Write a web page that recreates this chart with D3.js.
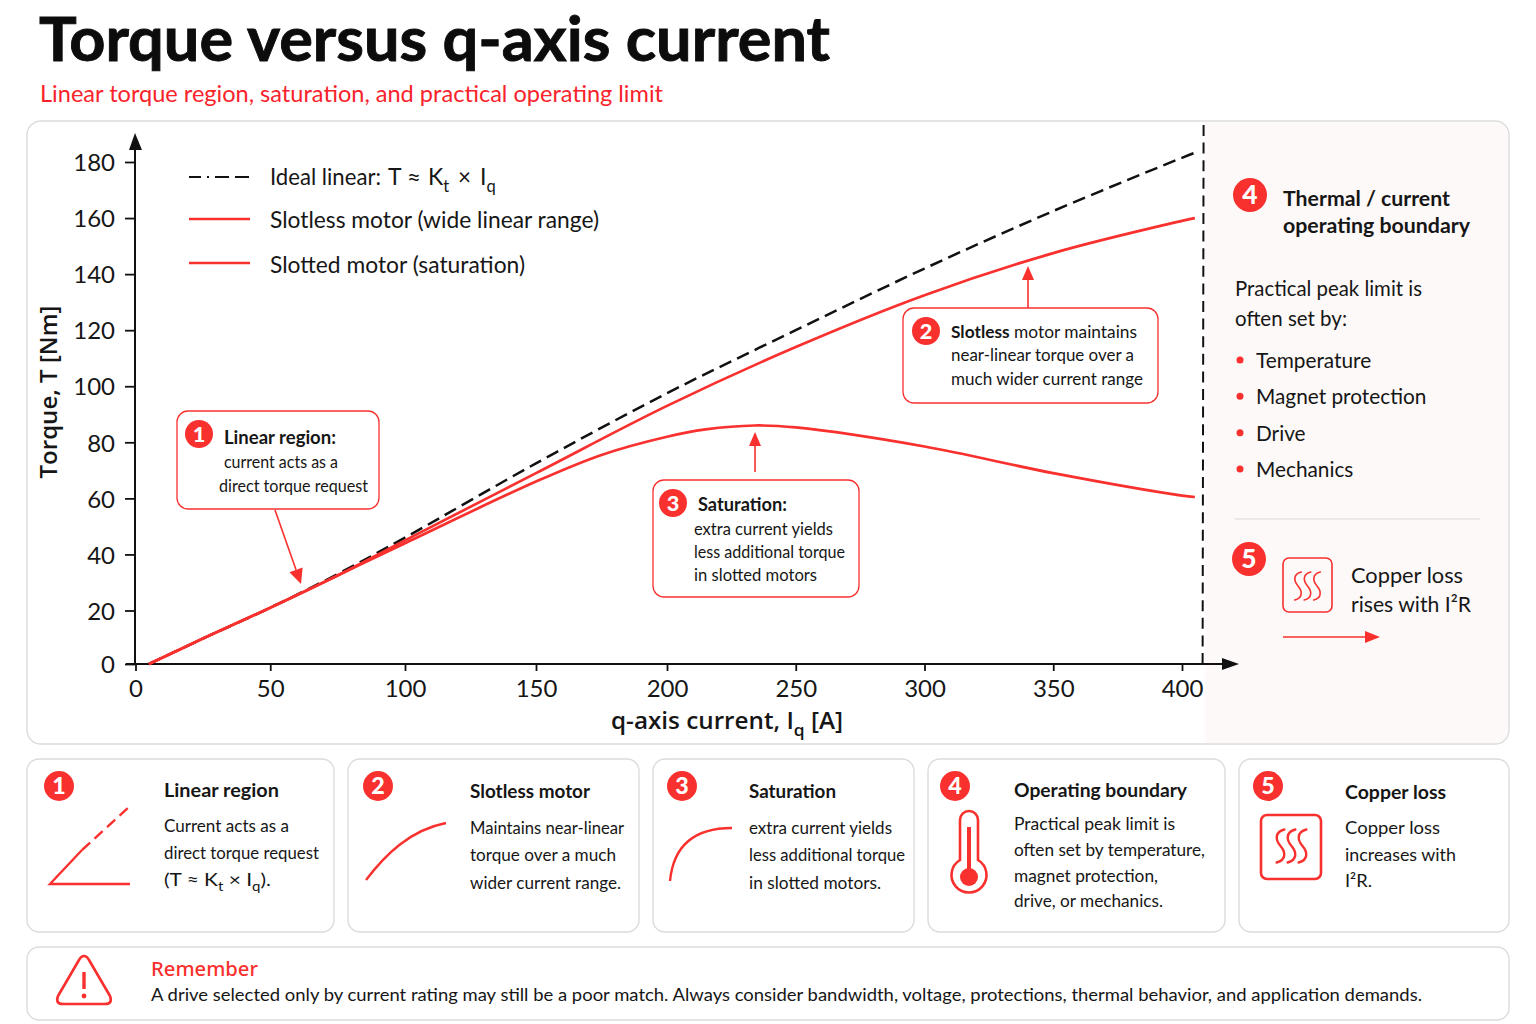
<!DOCTYPE html>
<html>
<head>
<meta charset="utf-8">
<script src="https://cdn.jsdelivr.net/npm/d3@7"></script>
<style>
  html, body { margin: 0; padding: 0; background: #fff; }
  svg { display: block; }
  text { font-family: Lato, "Open Sans", sans-serif; fill: #161616; }
</style>
</head>
<body>
<div id="chart"></div>
<script>
const RED = "#f8302e";
const BORDER = "#dcdcdc";

// values
const xTicks = [0, 50, 100, 150, 200, 250, 300, 350, 400];
const yTicks = [0, 20, 40, 60, 80, 100, 120, 140, 160, 180];
const limitCurrent = 408;

const idealIq = [5, 25, 50, 75, 100, 150, 200, 250, 300, 350, 400, 405];
const idealT = [0, 9.5, 21, 33, 46, 72.5, 97.5, 120, 142, 162.5, 181.5, 183.3];
const slotlessIq = [5, 25, 50, 75, 100, 150, 200, 250, 300, 350, 400, 405];
const slotlessT = [0, 9.5, 21, 32.5, 45, 69, 93, 114, 132.5, 147.5, 159, 160];
const slottedIq = [5, 25, 50, 75, 100, 150, 175, 200, 215, 234, 250, 300, 350, 400, 405];
const slottedT = [0, 9.5, 21, 32.5, 44, 66, 75.5, 82, 84.6, 86, 85.3, 78.5, 69, 61, 60.5];

const boundaryItems = ["Temperature", "Magnet protection", "Drive", "Mechanics"];

const svg = d3.select("#chart").append("svg").attr("width", 1536).attr("height", 1024);

// text helper: str may be a list of parts, {t, sub, bold}
function tx(x, y, str, o) {
    o = o || {};
    let t = svg.append("text").attr("x", x).attr("y", y)
        .attr("font-size", o.size || 17)
        .attr("font-weight", o.weight || 400)
        .style("fill", o.fill || "#161616");
    if (o.family) t.style("font-family", o.family);
    if (o.anchor) t.attr("text-anchor", o.anchor);
    if (o.rotate) t.attr("transform", "rotate(" + o.rotate + " " + x + " " + y + ")");
    if (o.w) t.attr("textLength", o.w).attr("lengthAdjust", "spacingAndGlyphs");
    let parts = Array.isArray(str) ? str : [{ t: str }];
    let shifted = 0;
    parts.forEach(function (p) {
        let s = t.append("tspan").text(p.t);
        if (p.bold) s.attr("font-weight", 700);
        if (p.sub) {
            s.attr("dy", (o.size || 17) * 0.3).attr("font-size", (o.size || 17) * 0.72);
            shifted = (o.size || 17) * 0.3;
        } else if (shifted) {
            s.attr("dy", -shifted);
            shifted = 0;
        }
    });
    return t;
}

function panel(x0, y0, x1, y1, r) {
    svg.append("rect").attr("x", x0).attr("y", y0).attr("width", x1 - x0).attr("height", y1 - y0)
        .attr("rx", r).attr("fill", "#fff").attr("stroke", BORDER).attr("stroke-width", 1.4);
}

function badge(cx, cy, r, n) {
    svg.append("circle").attr("cx", cx).attr("cy", cy).attr("r", r).attr("fill", RED);
    tx(cx, cy + r * 0.55, n, { size: r * 1.55, weight: 900, fill: "#fff", anchor: "middle" });
}

function arrow(x0, y0, x1, y1, len, half, width) {
    let a = Math.atan2(y1 - y0, x1 - x0);
    let bx = x1 - len * Math.cos(a), by = y1 - len * Math.sin(a);
    svg.append("line").attr("x1", x0).attr("y1", y0).attr("x2", bx).attr("y2", by)
        .attr("stroke", RED).attr("stroke-width", width || 1.6);
    let nx = -Math.sin(a) * half, ny = Math.cos(a) * half;
    svg.append("path").attr("fill", RED)
        .attr("d", "M" + x1 + "," + y1 + "L" + (bx + nx) + "," + (by + ny) + "L" + (bx - nx) + "," + (by - ny) + "Z");
}

function squiggles(cx, cy, h, gap, width) {
    [-gap, 0, gap].forEach(function (dx) {
        let x = cx + dx, s = h * 0.13;
        svg.append("path").attr("fill", "none").attr("stroke", RED).attr("stroke-width", width)
            .attr("stroke-linecap", "round")
            .attr("d", "M" + (x + s * 0.9) + "," + (cy - h / 2)
                + "C" + (x - s * 1.4) + "," + (cy - h * 0.42) + " " + (x - s * 1.2) + "," + (cy - h * 0.18) + " " + x + "," + cy
                + "C" + (x + s * 1.2) + "," + (cy + h * 0.18) + " " + (x + s * 1.4) + "," + (cy + h * 0.42) + " " + (x - s * 0.9) + "," + (cy + h / 2));
    });
}

// header
tx(39, 61, "Torque versus q-axis current", { size: 62, weight: 700, fill: "#0c0c0c", w: 791 })
    .style("stroke", "#0c0c0c").style("stroke-width", 0.9);
tx(40, 102, "Linear torque region, saturation, and practical operating limit", { size: 24, fill: "#f8232b", w: 623 });

// main panel with the tinted right part
panel(27, 121, 1509, 744, 14);
svg.append("path").attr("fill", "#fdf9f8")
    .attr("d", "M1205,122H1495a13,13 0 0 1 13,13V730a13,13 0 0 1 -13,13H1205Z");

// scales
let x = d3.scaleLinear().domain([0, 100, 200, 400]).range([135.5, 405, 667, 1182]);
let y = d3.scaleLinear().domain([0, 20, 180]).range([664, 610.5, 162]);
let line = d3.line().x(function (d) { return x(d[0]); }).y(function (d) { return y(d[1]); }).curve(d3.curveCatmullRom.alpha(0.5));

// boundary
svg.append("line").attr("x1", x(limitCurrent)).attr("x2", x(limitCurrent) + 1).attr("y1", 664).attr("y2", 122)
    .attr("stroke", "#111").attr("stroke-width", 2).attr("stroke-dasharray", "11 6.6");

// axes
let xAxis = svg.append("g").attr("transform", "translate(0,664)")
    .call(d3.axisBottom(x).tickValues(xTicks).tickSize(7).tickPadding(9).tickFormat(d3.format("d")));
let yAxis = svg.append("g").attr("transform", "translate(135,1)")
    .call(d3.axisLeft(y).tickValues(yTicks).tickSize(10).tickPadding(10).tickFormat(d3.format("d")));
yAxis.selectAll(".tick line").attr("transform", "translate(0,-1)");
[xAxis, yAxis].forEach(function (a) {
    a.selectAll(".domain").remove();
    a.selectAll(".tick line").attr("stroke", "#111").attr("stroke-width", 1.8);
    a.selectAll("text").attr("font-size", 24).attr("font-family", "Lato").style("fill", "#161616");
});
svg.append("line").attr("x1", 135).attr("x2", 135).attr("y1", 665).attr("y2", 148).attr("stroke", "#111").attr("stroke-width", 2);
svg.append("path").attr("fill", "#111").attr("d", "M135,133L142,150H129Z");
svg.append("line").attr("x1", 126).attr("x2", 1224).attr("y1", 664).attr("y2", 664).attr("stroke", "#111").attr("stroke-width", 2);
svg.append("path").attr("fill", "#111").attr("d", "M1239,664L1222,658V670Z");

tx(57, 392, "Torque, T [Nm]", { size: 23, weight: 600, family: "'Open Sans'", anchor: "middle", rotate: -90, w: 173 });
tx(611, 729, [{ t: "q-axis current, I" }, { t: "q", sub: true }, { t: " [A]" }], { size: 23, weight: 600, family: "'Open Sans'", w: 232 });

// curves
svg.append("path").datum(d3.zip(idealIq, idealT)).attr("d", line).attr("fill", "none")
    .attr("stroke", "#111").attr("stroke-width", 2.5).attr("stroke-dasharray", "13 6.5");
svg.append("path").datum(d3.zip(slottedIq, slottedT)).attr("d", line).attr("fill", "none")
    .attr("stroke", RED).attr("stroke-width", 2.7);
svg.append("path").datum(d3.zip(slotlessIq, slotlessT)).attr("d", line).attr("fill", "none")
    .attr("stroke", RED).attr("stroke-width", 2.7);

// legend
svg.append("line").attr("x1", 189).attr("x2", 250).attr("y1", 177).attr("y2", 177)
    .attr("stroke", "#111").attr("stroke-width", 2).attr("stroke-dasharray", "12 6 2 6 14 6 14");
svg.append("line").attr("x1", 189).attr("x2", 250).attr("y1", 219).attr("y2", 219).attr("stroke", RED).attr("stroke-width", 2.4);
svg.append("line").attr("x1", 189).attr("x2", 250).attr("y1", 263).attr("y2", 263).attr("stroke", RED).attr("stroke-width", 2.4);
tx(270, 185, "Ideal linear:", { size: 23, w: 111 });
tx(388, 185, "T", { size: 23 });
tx(407, 185, "≈", { size: 23, w: 14 });
tx(428, 185, [{ t: "K" }, { t: "t", sub: true }], { size: 23 });
tx(458, 185, "×", { size: 23, w: 13 });
tx(480, 185, [{ t: "I" }, { t: "q", sub: true }], { size: 23 });
tx(270, 228, "Slotless motor (wide linear range)", { size: 23, w: 329 });
tx(270, 273, "Slotted motor (saturation)", { size: 23, w: 255 });

// callouts
function callout(x0, y0, x1, y1) {
    svg.append("rect").attr("x", x0).attr("y", y0).attr("width", x1 - x0).attr("height", y1 - y0)
        .attr("rx", 11).attr("fill", "#fff").attr("stroke", RED).attr("stroke-width", 1.3);
}
callout(177, 411, 379, 509);
badge(199, 434, 14, "1");
tx(224, 444, "Linear region:", { size: 18, weight: 700, w: 112 });
tx(224, 468, "current acts as a", { size: 16.5, w: 114 });
tx(219, 492, "direct torque request", { size: 16.5, w: 149 });
arrow(275, 510, 301, 584, 15, 7);

callout(903, 308, 1158, 403);
badge(926, 331, 14, "2");
tx(951, 338, [{ t: "Slotless", bold: true }, { t: " motor maintains" }], { size: 17, w: 186 });
tx(951, 361, "near-linear torque over a", { size: 17, w: 183 });
tx(951, 385, "much wider current range", { size: 17, w: 192 });
arrow(1028, 308, 1028, 266, 14, 6);

callout(653, 480, 859, 597);
badge(673, 503, 14, "3");
tx(698, 511, "Saturation:", { size: 18, weight: 700, w: 89 });
tx(694, 535, "extra current yields", { size: 17, w: 139 });
tx(694, 558, "less additional torque", { size: 17, w: 151 });
tx(694, 581, "in slotted motors", { size: 17, w: 123 });
arrow(755, 472, 755, 432, 14, 6);

// right side of the main panel
badge(1250, 195, 17, "4");
tx(1283, 206, "Thermal / current", { size: 21.5, weight: 700, w: 167 });
tx(1283, 233, "operating boundary", { size: 21.5, weight: 700, w: 187 });
tx(1235, 296, "Practical peak limit is", { size: 22, w: 187 });
tx(1235, 326, "often set by:", { size: 22, w: 112 });
const itemY = d3.scalePoint().domain(boundaryItems).range([360, 469]);
boundaryItems.forEach(function (s) {
    svg.append("circle").attr("cx", 1240).attr("cy", itemY(s)).attr("r", 3.5).attr("fill", RED);
    tx(1256, itemY(s) + 8, s, { size: 20.8 });
});
svg.append("line").attr("x1", 1235).attr("x2", 1480).attr("y1", 519).attr("y2", 519).attr("stroke", "#d8d8d8").attr("stroke-width", 1.2);
badge(1249, 559, 17, "5");
svg.append("rect").attr("x", 1283).attr("y", 558).attr("width", 49).attr("height", 54).attr("rx", 6)
    .attr("fill", "none").attr("stroke", RED).attr("stroke-width", 1.6);
squiggles(1307.5, 586, 28, 9.5, 1.6);
tx(1351, 583, "Copper loss", { size: 22, w: 112 });
tx(1351, 612, "rises with I²R", { size: 22, w: 120 });
arrow(1283, 637, 1380, 637, 15, 6, 1.5);

// bottom cards
panel(27, 759, 334, 932, 12);
panel(348, 759, 639, 932, 12);
panel(653, 759, 914, 932, 12);
panel(928, 759, 1225, 932, 12);
panel(1239, 759, 1509, 932, 12);

function icon(d, dash) {
    let p = svg.append("path").attr("d", d).attr("fill", "none").attr("stroke", RED).attr("stroke-width", 2.4);
    if (dash) p.attr("stroke-dasharray", dash);
}

badge(59, 786, 15, "1");
icon("M130,884H50L82,850");
icon("M82,850L130,806", "11 6");
tx(164, 797, "Linear region", { size: 19.5, weight: 700, w: 115 });
tx(164, 832, "Current acts as a", { size: 17.5, w: 125 });
tx(164, 859, "direct torque request", { size: 17.5, w: 155 });
tx(164, 886, [{ t: "(T ≈ K" }, { t: "t", sub: true }, { t: " × I" }, { t: "q", sub: true }, { t: ")." }], { size: 17.5, w: 107 });

badge(378, 786, 15, "2");
icon("M366,880C385,855 410,830 446,823");
tx(470, 798, "Slotless motor", { size: 19.5, weight: 700, w: 120 });
tx(470, 834, "Maintains near-linear", { size: 17.5, w: 154 });
tx(470, 861, "torque over a much", { size: 17.5, w: 146 });
tx(470, 889, "wider current range.", { size: 17.5, w: 151 });

badge(682, 786, 15, "3");
icon("M670,881C673,850 690,828 732,828");
tx(749, 798, "Saturation", { size: 19.5, weight: 700, w: 87 });
tx(749, 834, "extra current yields", { size: 17.5, w: 143 });
tx(749, 861, "less additional torque", { size: 17.5, w: 156 });
tx(749, 889, "in slotted motors.", { size: 17.5, w: 132 });

badge(955, 786, 15, "4");
svg.append("path").attr("fill", "none").attr("stroke", RED).attr("stroke-width", 2.6)
    .attr("d", "M960,860V820a9,9 0 0 1 18,0V860a17.5,17.5 0 1 1 -18,0Z");
svg.append("line").attr("x1", 969).attr("x2", 969).attr("y1", 827).attr("y2", 872).attr("stroke", RED).attr("stroke-width", 4);
svg.append("circle").attr("cx", 969).attr("cy", 877).attr("r", 9).attr("fill", RED);
tx(1014, 797, "Operating boundary", { size: 19.5, weight: 700, w: 173 });
tx(1014, 830, "Practical peak limit is", { size: 17.5, w: 161 });
tx(1014, 856, "often set by temperature,", { size: 17.5, w: 191 });
tx(1014, 882, "magnet protection,", { size: 17.5, w: 144 });
tx(1014, 907, "drive, or mechanics.", { size: 17.5, w: 149 });

badge(1268, 786, 15, "5");
svg.append("rect").attr("x", 1261).attr("y", 815).attr("width", 60).attr("height", 64).attr("rx", 6)
    .attr("fill", "none").attr("stroke", RED).attr("stroke-width", 2.6);
squiggles(1291.5, 846, 33, 11, 2.4);
tx(1345, 799, "Copper loss", { size: 19.5, weight: 700, w: 101 });
tx(1345, 834, "Copper loss", { size: 17.5, w: 95 });
tx(1345, 861, "increases with", { size: 17.5, w: 111 });
tx(1345, 887, "I²R.", { size: 17.5, w: 27 });

// reminder strip
panel(27, 947, 1509, 1020, 12);
svg.append("path").attr("fill", "none").attr("stroke", RED).attr("stroke-width", 2.6).attr("stroke-linejoin", "round")
    .attr("d", "M84,956Q87,956 89,960L110,996Q113,1004 105,1004H63Q55,1004 58,996L79,960Q81,956 84,956Z");
svg.append("line").attr("x1", 84).attr("x2", 84).attr("y1", 972).attr("y2", 989).attr("stroke", RED).attr("stroke-width", 3.4);
svg.append("circle").attr("cx", 84).attr("cy", 996).attr("r", 2.4).attr("fill", RED);
tx(151, 976, "Remember", { size: 20.5, weight: 500, family: "'Noto Sans'", fill: RED, w: 107 });
tx(151, 1001, "A drive selected only by current rating may still be a poor match. Always consider bandwidth, voltage, protections, thermal behavior, and application demands.", { size: 18, w: 1271 });
</script>
</body>
</html>
